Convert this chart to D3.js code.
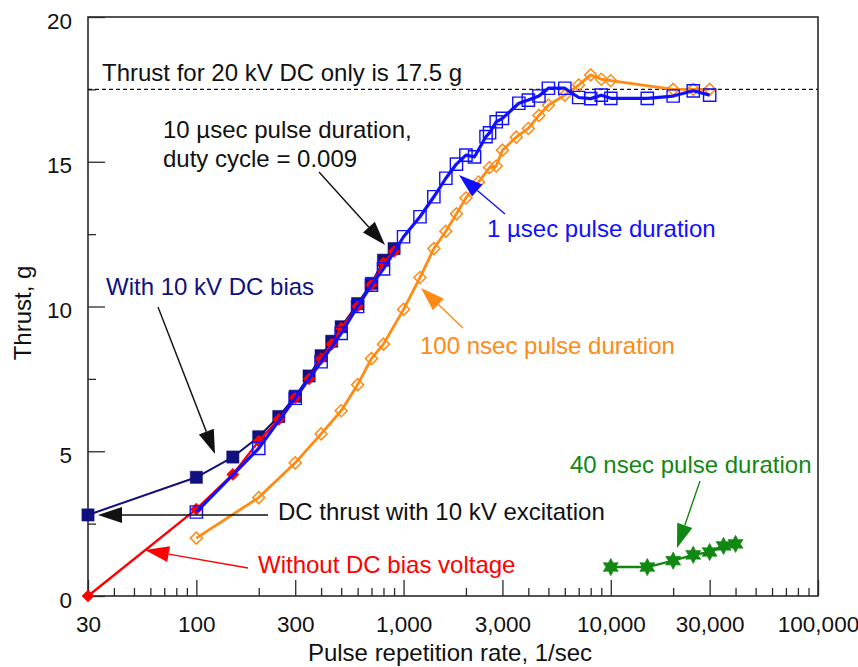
<!DOCTYPE html>
<html><head><meta charset="utf-8">
<script src="https://cdn.jsdelivr.net/npm/d3@7"></script>
<style>html,body{margin:0;padding:0;background:#fff;} svg{display:block;font-family:"Liberation Sans",Arial,sans-serif;}</style>
</head><body>
<svg id="chart" width="858" height="667"></svg>
<script>
// ---------- data (rate in 1/sec, thrust in g) ----------
const withBiasRate   = [30, 100, 150, 200, 250, 300, 350, 400, 450, 500, 600, 700, 800, 900];
const withBiasThrust = [2.8, 4.1, 4.8, 5.5, 6.2, 6.9, 7.6, 8.3, 8.8, 9.3, 10.1, 10.8, 11.6, 12.0];

const noBiasRate   = [30, 100, 150, 200, 250, 300, 350, 400, 450, 500, 600, 700, 800, 900];
const noBiasThrust = [0, 3.0, 4.2, 5.35, 6.1, 6.85, 7.5, 8.2, 8.7, 9.25, 10.0, 10.75, 11.5, 11.9];

const usec1Rate   = [100, 200, 300, 400, 500, 600, 700, 800, 1000, 1200, 1400, 1600, 1800, 2000, 2200, 2500, 2600, 2800, 3000, 3600, 4000, 4500, 5000, 6000, 7000, 8000, 9000, 10000, 15000, 20000, 25000, 30000];
const usec1Thrust = [2.9, 5.1, 6.83, 8.09, 9.07, 10.0, 10.74, 11.3, 12.41, 13.1, 13.79, 14.43, 14.92, 15.23, 15.17, 15.87, 16.0, 16.38, 16.5, 17.02, 17.13, 17.27, 17.54, 17.54, 17.22, 17.18, 17.3, 17.19, 17.19, 17.27, 17.45, 17.3];

const nsec100Rate   = [100, 200, 300, 400, 500, 600, 700, 800, 1000, 1200, 1400, 1600, 1800, 2000, 2300, 2600, 2800, 3000, 3500, 4000, 4500, 5000, 6000, 7000, 8000, 9000, 10000, 20000, 25000, 30000];
const nsec100Thrust = [2.0, 3.4, 4.6, 5.6, 6.4, 7.3, 8.2, 8.7, 9.9, 11.0, 12.0, 12.6, 13.2, 13.75, 14.3, 14.8, 14.85, 15.4, 15.85, 16.15, 16.6, 16.95, 17.3, 17.65, 18.0, 17.85, 17.8, 17.5, 17.5, 17.5];

const nsec40Rate   = [10000, 15000, 20000, 25000, 30000, 35000, 40000];
const nsec40Thrust = [1.0, 1.0, 1.22, 1.42, 1.52, 1.73, 1.8];

const dcOnlyThrust = 17.5;

const xMajorTicks  = [30, 100, 300, 1000, 3000, 10000, 30000, 100000];
const xTickLabels  = ["30", "100", "300", "1,000", "3,000", "10,000", "30,000", "100,000"];
const xMinorTicks  = [40, 50, 60, 70, 80, 90, 200, 400, 500, 600, 700, 800, 900, 2000, 4000, 5000, 6000, 7000, 8000, 9000, 20000, 40000, 50000, 60000, 70000, 80000, 90000];
const yMajorTicks  = [0, 5, 10, 15, 20];
const yMinorTicks  = [2.5, 7.5, 12.5, 17.5];

// ---------- layout ----------
const W = 858, H = 667;
const M = {left: 88, right: 40, top: 17, bottom: 71};
const svg = d3.select("#chart");
const x = d3.scaleLog().domain([30, 100000]).range([M.left, W - M.right]);
const y = d3.scaleLinear().domain([0, 20]).range([H - M.bottom, M.top]);

const C = {navy: "#10107f", red: "#ff0000", blue: "#1010ff", orange: "#ff8a14", green: "#118811", axis: "#2a2a2a"};
const FS_TICK = 22.5, FS_TXT = 24;

// ---------- axes ----------
const gx = svg.append("g").attr("transform", `translate(0,${y(0)})`);
gx.append("g").call(d3.axisBottom(x).tickValues(xMinorTicks).tickSize(-8).tickFormat(""));
gx.append("g").call(d3.axisBottom(x).tickValues(xMajorTicks).tickSize(-16).tickPadding(20)
   .tickFormat((d, i) => xTickLabels[i]));
const gy = svg.append("g").attr("transform", `translate(${x(30)},0)`);
gy.append("g").call(d3.axisLeft(y).tickValues(yMinorTicks).tickSize(-8).tickFormat(""));
gy.append("g").call(d3.axisLeft(y).tickValues(yMajorTicks).tickSize(-17).tickPadding(16).tickFormat(d3.format("d")));
svg.selectAll(".domain").remove();
svg.selectAll(".tick line").attr("stroke", C.axis).attr("stroke-width", 1.3);
svg.selectAll(".tick text").attr("font-size", FS_TICK).attr("fill", "#111").attr("font-family", "Liberation Sans, Arial, sans-serif");
gy.selectAll(".tick text").attr("dy", "0.49em");

// frame
svg.append("rect").attr("x", x(30)).attr("y", y(20)).attr("width", x(100000) - x(30)).attr("height", y(0) - y(20))
  .attr("fill", "none").attr("stroke", C.axis).attr("stroke-width", 1.6);

// axis titles
svg.append("text").attr("x", 450).attr("y", 661).attr("text-anchor", "middle").attr("font-size", FS_TXT).attr("fill", "#111")
  .text("Pulse repetition rate, 1/sec");
svg.append("text").attr("transform", "translate(31,313) rotate(-90)").attr("text-anchor", "middle").attr("font-size", FS_TXT).attr("fill", "#111")
  .text("Thrust, g");

// dashed reference line
svg.append("line").attr("x1", x(30)).attr("x2", x(100000)).attr("y1", y(dcOnlyThrust)).attr("y2", y(dcOnlyThrust))
  .attr("stroke", "#111").attr("stroke-width", 1.2).attr("stroke-dasharray", "4,3");

// ---------- series ----------
const line = d3.line().x(d => x(d[0])).y(d => y(d[1]));
const zip = (a, b) => a.map((v, i) => [v, b[i]]);

const star6 = {draw(ctx, size) {
  const R = Math.sqrt(size) * 0.62, r = R * 0.55;
  for (let i = 0; i < 12; i++) {
    const a = -Math.PI / 2 + i * Math.PI / 6, rr = i % 2 ? r : R;
    const px = rr * Math.cos(a), py = rr * Math.sin(a);
    i ? ctx.lineTo(px, py) : ctx.moveTo(px, py);
  }
  ctx.closePath();
}};

function drawSeries(rates, vals, o) {
  const data = zip(rates, vals);
  const g = svg.append("g");
  g.append("path").datum(data).attr("d", line).attr("fill", "none").attr("stroke", o.color).attr("stroke-width", o.lw).attr("stroke-linejoin", "round");
  g.selectAll("path.m").data(data).join("path").attr("class", "m")
    .attr("transform", d => `translate(${x(d[0])},${y(d[1])})${o.rot ? " rotate(45)" : ""}`)
    .attr("d", d3.symbol().type(o.type).size(o.size))
    .attr("fill", o.fill ? o.color : "none")
    .attr("stroke", o.color).attr("stroke-width", o.sw);
  return g;
}

drawSeries(nsec100Rate, nsec100Thrust, {color: C.orange, lw: 2.8, type: d3.symbolSquare, size: 72, rot: true, fill: false, sw: 1.5});
drawSeries(nsec40Rate, nsec40Thrust, {color: C.green, lw: 2.4, type: star6, size: 190, fill: true, sw: 0.8});
drawSeries(withBiasRate, withBiasThrust, {color: C.navy, lw: 2, type: d3.symbolSquare, size: 150, fill: true, sw: 0.5});
drawSeries(noBiasRate, noBiasThrust, {color: C.red, lw: 2.4, type: d3.symbolSquare, size: 75, rot: true, fill: true, sw: 0.5});
drawSeries(usec1Rate, usec1Thrust, {color: C.blue, lw: 3.2, type: d3.symbolSquare, size: 150, fill: false, sw: 1.4});

// ---------- annotations ----------
const texts = [
  {t: "Thrust for 20 kV DC only is 17.5 g", x: 102, y: 81, c: "#111"},
  {t: "10 µsec pulse duration,", x: 163, y: 138, c: "#111"},
  {t: "duty cycle = 0.009", x: 163, y: 167, c: "#111"},
  {t: "With 10 kV DC bias", x: 106, y: 295, c: C.navy},
  {t: "DC thrust with 10 kV excitation", x: 278, y: 520, c: "#111"},
  {t: "Without DC bias voltage", x: 258, y: 573, c: C.red},
  {t: "1 µsec pulse duration", x: 487, y: 237, c: C.blue},
  {t: "100 nsec pulse duration", x: 420, y: 354, c: C.orange},
  {t: "40 nsec pulse duration", x: 570, y: 473, c: C.green}
];
svg.append("g").selectAll("text").data(texts).join("text")
  .attr("x", d => d.x).attr("y", d => d.y).attr("fill", d => d.c).attr("font-size", FS_TXT).text(d => d.t);

const arrows = [
  {x1: 319, y1: 172, x2: 385, y2: 245, c: "#111"},
  {x1: 158, y1: 307, x2: 215, y2: 454, c: "#111"},
  {x1: 268, y1: 515, x2: 98, y2: 515, c: "#111"},
  {x1: 248, y1: 568, x2: 145, y2: 550, c: C.red},
  {x1: 505, y1: 214, x2: 459, y2: 175, c: C.blue},
  {x1: 463, y1: 328, x2: 421, y2: 288, c: C.orange},
  {x1: 700, y1: 481, x2: 677, y2: 548, c: C.green}
];
const ag = svg.append("g");
arrows.forEach(a => {
  const dx = a.x2 - a.x1, dy = a.y2 - a.y1, L = Math.hypot(dx, dy), ux = dx / L, uy = dy / L;
  const hl = 24, hw = 8;
  const bx = a.x2 - ux * hl, by = a.y2 - uy * hl;
  ag.append("line").attr("x1", a.x1).attr("y1", a.y1).attr("x2", bx).attr("y2", by).attr("stroke", a.c).attr("stroke-width", 1.4);
  ag.append("path").attr("d", `M${a.x2},${a.y2}L${bx - uy * hw},${by + ux * hw}L${bx + uy * hw},${by - ux * hw}Z`).attr("fill", a.c);
});
</script>
</body></html>
